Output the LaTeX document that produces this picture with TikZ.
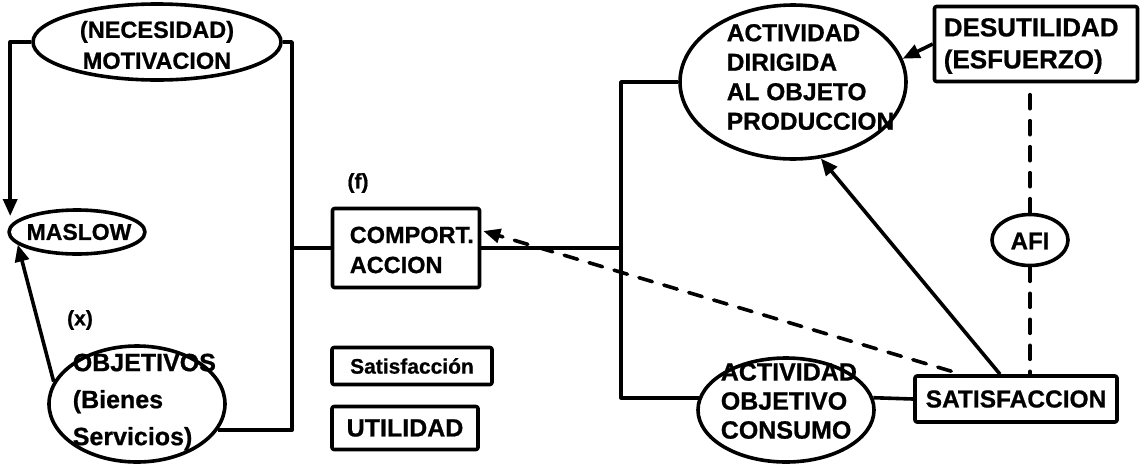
\documentclass[tikz,border=0pt]{standalone}
\usepackage{fontspec}
\setmainfont{Liberation Sans}[BoldFeatures={FakeBold=0.8}]
\usetikzlibrary{shapes.geometric,arrows.meta,calc}
\newcommand\fz[2]{\fontsize{#1}{#2}\selectfont}
\begin{document}
\begin{tikzpicture}[x=1pt,y=-1pt,
  line width=3.6pt, line join=round,
  oval/.style={ellipse,draw,inner sep=0pt},
  boxed/.style={draw,rounded corners=2pt,inner sep=0pt},
  lbl/.style={font=\bfseries,align=left,inner sep=0pt},
  arr/.style={-{Triangle[length=17pt,width=14pt]}},
  dsh/.style={dash pattern=on 14pt off 12pt,line cap=round},
]
\useasboundingbox (0,0) rectangle (1146,464);

% left group: need, Maslow, goals
\node[oval,minimum width=248pt,minimum height=76pt] (nec) at (157,42) {};
\node[lbl,align=center,font=\bfseries\fz{23.5}{31}] at (157,45) {(NECESIDAD)\\MOTIVACION};

\node[oval,minimum width=136pt,minimum height=44pt] (mas) at (77,232) {};
\node[lbl,font=\bfseries\fz{23}{28}] at (79,232) {MASLOW};

\node[oval,minimum width=176pt,minimum height=116pt] (obj) at (137,404) {};
\node[lbl,anchor=west,font=\bfseries\fz{25}{37}] at (71,402) {OBJETIVOS\\(Bienes\\Servicios)};
\node[lbl,font=\bfseries\fz{21}{25}] (x) at (80,320) {(x)};

% behaviour
\node[lbl,font=\bfseries\fz{21}{25}] (f) at (358,183) {(f)};
\node[boxed,minimum width=147pt,minimum height=79pt] (comp) at (406,248) {};
\node[lbl,anchor=west,font=\bfseries\fz{23.5}{30}] at (348,250) {COMPORT.\\ACCION};

\node[boxed,minimum width=160pt,minimum height=37pt,font=\bfseries\fz{21}{25}] (sa) at (412,366) {Satisfacción};
\node[boxed,minimum width=146pt,minimum height=43pt,font=\bfseries\fz{25}{28}] (ut) at (405,428) {UTILIDAD};

% right group: activities
\node[oval,minimum width=226pt,minimum height=154pt] (ad) at (793,82) {};
\node[lbl,anchor=west,font=\bfseries\fz{24.5}{29.5}] at (725,77) {ACTIVIDAD\\DIRIGIDA\\AL OBJETO\\PRODUCCION};

\node[boxed,minimum width=203pt,minimum height=75pt] (des) at (1036,44) {};
\node[lbl,anchor=west,font=\bfseries\fz{26}{32}] at (942,46) {DESUTILIDAD\\(ESFUERZO)};

\node[oval,minimum width=76pt,minimum height=51pt] (afi) at (1030,240) {};
\node[lbl,font=\bfseries\fz{24}{28}] at (1030,241) {AFI};

\node[oval,minimum width=176pt,minimum height=104pt] (ao) at (786,410) {};
\node[lbl,anchor=west,font=\bfseries\fz{25}{29}] at (719,401) {ACTIVIDAD\\OBJETIVO\\CONSUMO};

\node[boxed,minimum width=202pt,minimum height=46pt,font=\bfseries\fz{24.5}{28}] (sat) at (1016,399) {SATISFACCION};

% bracket lines
\coordinate (rb) at (292,0);
\coordinate (jr) at (621,0);
\draw[arr] (nec.west) -| ($(mas.west)+(3,-16)$);
\draw (nec.east) -| (rb |- obj.-18) -- (obj.-18);
\draw (rb |- comp.west) -- (comp.west);
\draw[arr] (obj.165) -- (mas.192);
\draw (comp.east) -- (jr |- comp.east);
\draw (ad.west) -| (jr |- ao.172) -- (ao.172);

% links on the right
\draw (sat.west) -- (ao.8);
\draw[arr] ($(sat.north)+(-16,0)$) -- (ad.-70);
\draw[arr] (des.west) -- (ad.12.6);
\draw[arr,dsh] ($(sat.north west)+(38,-3)$) -- ($(comp.east)+(2,-17)$);
\draw[dsh] (afi.north) -- (afi.north |- des.south);
\draw[dsh] (afi.south) -- (afi.south |- sat.north);
\end{tikzpicture}
\end{document}
